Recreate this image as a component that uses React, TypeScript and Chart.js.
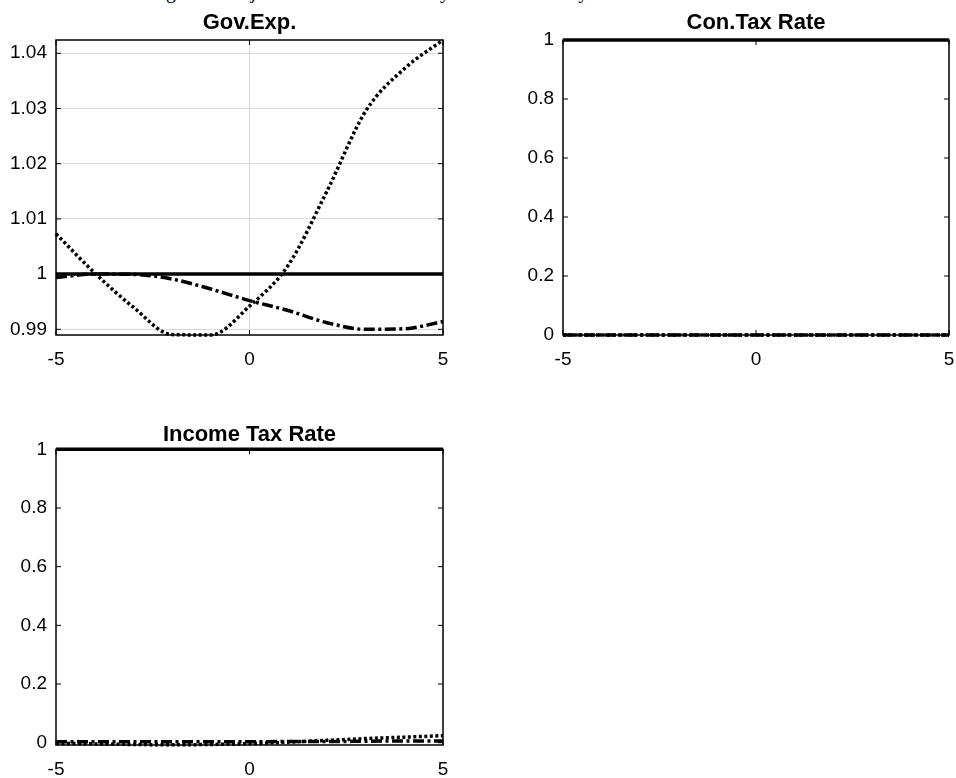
import React, { useEffect, useRef } from 'react';
import { Chart, registerables } from 'chart.js';

Chart.register(...registerables);

// ---------- data ----------
const X_VALUES = [-5, -4, -3, -2, -1, 0, 1, 2, 3, 4, 5];
const X_TICKS = [-5, 0, 5];

const GOV_SOLID = [1, 1, 1, 1, 1, 1, 1, 1, 1, 1, 1];
const GOV_DASHDOT = [0.9994, 1.0, 0.99995, 0.9991, 0.9973, 0.9952, 0.9934, 0.9912, 0.99, 0.9901, 0.9914];
const GOV_DOTTED = [1.0073, 1.0002, 0.994, 0.98905, 0.98897, 0.9942, 1.0016, 1.015, 1.0295, 1.0372, 1.0424];
const GOV_Y_TICKS = [0.99, 1, 1.01, 1.02, 1.03, 1.04];
const GOV_Y_MIN = 0.98897;
const GOV_Y_MAX = 1.0424;

const CON_SOLID = [1, 1, 1, 1, 1, 1, 1, 1, 1, 1, 1];
const CON_DASHDOT = [0, 0, 0, 0, 0, 0, 0, 0, 0, 0, 0];
const CON_DOTTED = [0, 0, 0, 0, 0, 0, 0, 0, 0, 0, 0];

const INC_SOLID = [1, 1, 1, 1, 1, 1, 1, 1, 1, 1, 1];
const INC_DASHDOT = [0.003, 0.003, 0.003, 0.003, 0.003, 0.003, 0.004, 0.004, 0.005, 0.006, 0.006];
const INC_DOTTED = [-0.002, -0.004, -0.006, -0.007, -0.006, -0.003, 0.002, 0.008, 0.014, 0.019, 0.024];

const TAX_Y_TICKS = [0, 0.2, 0.4, 0.6, 0.8, 1];

const CAPTION = 'Figure 3: Adjustment of Fiscal Policy to a Productivity Shock in the Goods Sector';

// ---------- helpers ----------
const FONT = "'Liberation Sans', Arial, sans-serif";

const framePlugin = {
  id: 'frame',
  afterDatasetsDraw(chart: any) {
    const { ctx, chartArea, scales } = chart;
    const { left, right, top, bottom } = chartArea;
    ctx.save();
    ctx.strokeStyle = '#000';
    ctx.lineWidth = 1.5;
    ctx.strokeRect(left, top, right - left, bottom - top);
    ctx.lineWidth = 1;
    const tl = 5;
    ctx.beginPath();
    scales.y.ticks.forEach((t: any) => {
      const py = scales.y.getPixelForValue(t.value);
      ctx.moveTo(left, py);
      ctx.lineTo(left + tl, py);
      ctx.moveTo(right, py);
      ctx.lineTo(right - tl, py);
    });
    scales.x.ticks.forEach((t: any) => {
      const px = scales.x.getPixelForValue(t.value);
      ctx.moveTo(px, bottom);
      ctx.lineTo(px, bottom - tl);
      ctx.moveTo(px, top);
      ctx.lineTo(px, top + tl);
    });
    ctx.stroke();
    ctx.restore();
  },
};

type Spec = {
  title: string;
  solid: number[];
  dashdot: number[];
  dotted: number[];
  yTicks: number[];
  yMin: number;
  yMax: number;
  grid: boolean;
  left: number;
  top: number;
  plotWidth: number;
  height: number;
  yAxisWidth: number;
  xAxisHeight: number;
  titleTop: number;
  titleBottom: number;
};

const toPoints = (ys: number[]) => X_VALUES.map((x, i) => ({ x, y: ys[i] }));

function Panel({ spec }: { spec: Spec }) {
  const ref = useRef<HTMLCanvasElement | null>(null);
  const width = spec.yAxisWidth * 2 + spec.plotWidth;
  useEffect(() => {
    if (!ref.current) return;
    const common = {
      pointRadius: 0, borderColor: '#000', borderWidth: 3.5, tension: 0.4,
      cubicInterpolationMode: 'monotone', fill: false, clip: 6,
    };
    const chart = new Chart(ref.current, {
      type: 'line',
      data: {
        datasets: [
          { ...common, label: 'solid', data: toPoints(spec.solid) },
          { ...common, label: 'dashdot', data: toPoints(spec.dashdot), borderDash: [11, 3.5, 3, 3.5] },
          { ...common, label: 'dotted', data: toPoints(spec.dotted), borderDash: [3, 2.5] },
        ],
      } as any,
      options: {
        animation: false,
        responsive: false,
        devicePixelRatio: 1,
        layout: { padding: 0 },
        plugins: {
          legend: { display: false },
          tooltip: { enabled: false },
          title: {
            display: true,
            text: spec.title,
            color: '#000',
            font: { family: FONT, size: 22, weight: 'bold' },
            padding: { top: spec.titleTop, bottom: spec.titleBottom },
          },
        },
        scales: {
          x: {
            type: 'linear',
            min: -5,
            max: 5,
            afterBuildTicks: (scale: any) => {
              scale.ticks = X_TICKS.map((v) => ({ value: v }));
            },
            afterFit: (scale: any) => {
              scale.height = spec.xAxisHeight;
            },
            grid: { display: spec.grid, color: '#d9d9d9', lineWidth: 1, drawTicks: false },
            border: { display: false },
            ticks: {
              color: '#000',
              font: { family: FONT, size: 19 },
              padding: 13,
              maxRotation: 0,
              callback: (v: any) => String(v),
            },
          },
          y: {
            type: 'linear',
            position: 'left',
            min: spec.yMin,
            max: spec.yMax,
            afterBuildTicks: (scale: any) => {
              scale.ticks = spec.yTicks.map((v) => ({ value: v }));
            },
            afterFit: (scale: any) => {
              scale.width = spec.yAxisWidth;
            },
            grid: { display: spec.grid, color: '#d9d9d9', lineWidth: 1, drawTicks: false },
            border: { display: false },
            ticks: {
              color: '#000',
              font: { family: FONT, size: 19 },
              padding: 9,
              callback: (v: any) => String(Number(Number(v).toFixed(2))),
            },
          },
          yRight: {
            type: 'linear',
            position: 'right',
            min: 0,
            max: 1,
            afterFit: (scale: any) => {
              scale.width = spec.yAxisWidth;
            },
            grid: { display: false, drawTicks: false },
            border: { display: false },
            ticks: { display: false },
          },
        },
      } as any,
      plugins: [framePlugin],
    });
    return () => chart.destroy();
  }, [spec]);
  return (
    <canvas
      ref={ref}
      width={width}
      height={spec.height}
      style={{ position: 'absolute', left: spec.left, top: spec.top, width, height: spec.height }}
    />
  );
}

const PANELS: Spec[] = [
  {
    title: 'Gov.Exp.', solid: GOV_SOLID, dashdot: GOV_DASHDOT, dotted: GOV_DOTTED,
    yTicks: GOV_Y_TICKS, yMin: GOV_Y_MIN, yMax: GOV_Y_MAX, grid: true,
    left: 0, top: 0, plotWidth: 387, height: 380, yAxisWidth: 56, xAxisHeight: 45,
    titleTop: 9.6, titleBottom: 4,
  },
  {
    title: 'Con.Tax Rate', solid: CON_SOLID, dashdot: CON_DASHDOT, dotted: CON_DOTTED,
    yTicks: TAX_Y_TICKS, yMin: 0, yMax: 1, grid: false,
    left: 490, top: 0, plotWidth: 386, height: 380, yAxisWidth: 73, xAxisHeight: 45,
    titleTop: 9.6, titleBottom: 4,
  },
  {
    title: 'Income Tax Rate', solid: INC_SOLID, dashdot: INC_DASHDOT, dotted: INC_DOTTED,
    yTicks: TAX_Y_TICKS, yMin: -0.0078, yMax: 1, grid: false,
    left: 0, top: 410, plotWidth: 387, height: 368, yAxisWidth: 56, xAxisHeight: 33,
    titleTop: 11.6, titleBottom: 1.3,
  },
];

export default function App() {
  return (
    <div style={{ position: 'absolute', left: 0, top: 0, width: 956, height: 778, background: '#fff', overflow: 'hidden' }}>
      <div
        style={{
          position: 'absolute', left: 0, top: -19, width: 956, textAlign: 'center',
          fontFamily: "'Liberation Serif', 'Times New Roman', serif", fontSize: 20, lineHeight: '20px', color: '#000',
          whiteSpace: 'nowrap',
        }}
      >
        {CAPTION}
      </div>
      {PANELS.map((p) => (
        <Panel key={p.title} spec={p} />
      ))}
    </div>
  );
}
